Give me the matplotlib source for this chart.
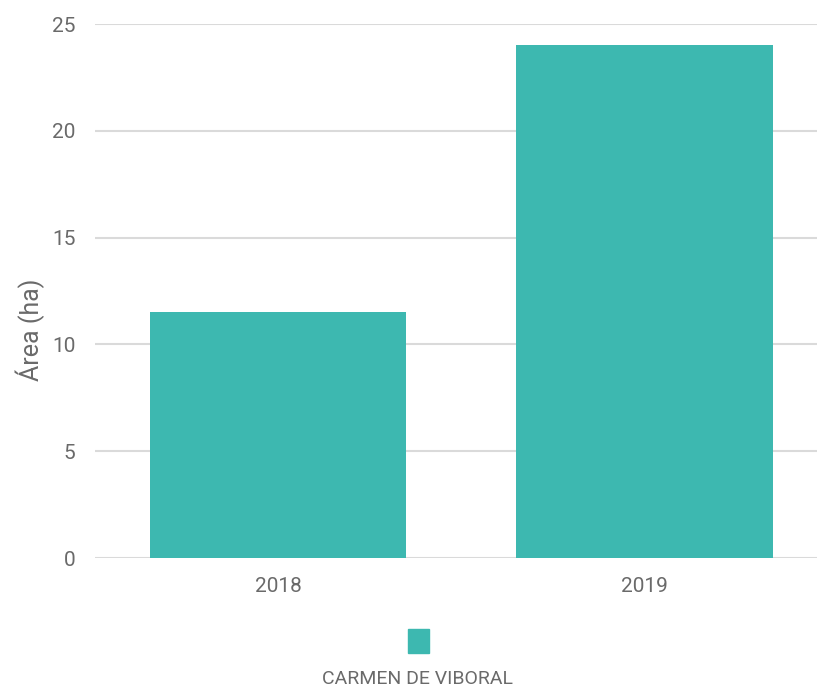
import matplotlib
matplotlib.use("Agg")
import matplotlib.pyplot as plt
from matplotlib import font_manager
from matplotlib.patches import Rectangle

# Datos
anios = ["2018", "2019"]
area = [11.5, 24.0]
serie = "CARMEN DE VIBORAL"
ticks_y = [0, 5, 10, 15, 20, 25]

color_barra = "#3DB8B0"
gris_texto = "#6A6A6A"
gris_grid = "#DADADA"

nombres = {f.name for f in font_manager.fontManager.ttflist}
fuente = "Liberation Sans Narrow" if "Liberation Sans Narrow" in nombres else "Roboto"
plt.rcParams["font.family"] = [fuente, "DejaVu Sans"]

fig = plt.figure(figsize=(8.17, 6.92), dpi=100)
ax = fig.add_axes([0.116, 0.1936, 0.884, 0.7717])

x = range(len(anios))
ax.bar(x, area, width=0.70, color=color_barra, zorder=3)

ax.set_xlim(-0.5, 1.47)
ax.set_ylim(0, 25)
ax.set_yticks(ticks_y)
ax.set_xticks(list(x))
ax.set_xticklabels(anios)
ax.grid(axis="y", color=gris_grid, linewidth=1.5, zorder=0)
ax.tick_params(axis="both", length=0, labelsize=15, colors=gris_texto)
ax.tick_params(axis="y", pad=14)
ax.tick_params(axis="x", pad=14)
for s in ax.spines.values():
    s.set_visible(False)

fig.text(30 / 817, 1 - 330 / 692, "Área (ha)", rotation=90, ha="center", va="center",
         fontsize=18, color=gris_texto)

# Leyenda manual
fig.patches.append(Rectangle((408 / 817, 1 - 653 / 692), 21 / 817, 24 / 692,
                             transform=fig.transFigure, color=color_barra))
fig.text(418 / 817, 1 - 679 / 692, serie, ha="center", va="center",
         fontsize=14, color=gris_texto)

fig.savefig("out.png", dpi=100)
